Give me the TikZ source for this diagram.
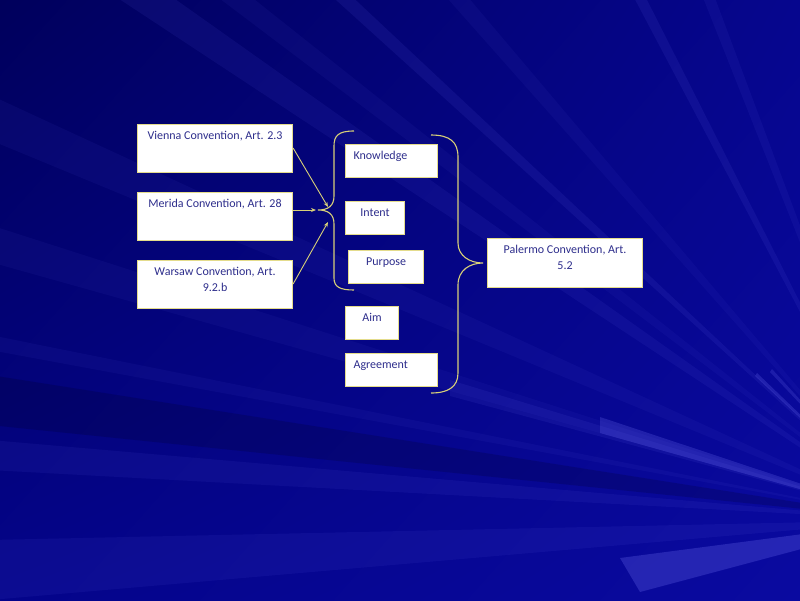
\documentclass[tikz,border=0pt]{standalone}
\usepackage{fontspec}
\setmainfont{Carlito}
\usetikzlibrary{arrows.meta,shadings}
\definecolor{bgUL}{HTML}{00005C}
\definecolor{bgUR}{HTML}{06068E}
\definecolor{bgLL}{HTML}{04048A}
\definecolor{bgLR}{HTML}{0A0AA0}
\definecolor{raylight}{HTML}{5A5AE0}
\definecolor{txtblue}{HTML}{2E2E8C}
\definecolor{edgey}{HTML}{E4DC8C}
\definecolor{liney}{HTML}{D8D078}
\tikzset{
  x=1pt,y=-1pt,
  box/.style={draw=edgey,line width=1.1pt,fill=white,inner sep=0pt,anchor=north west,
    text=txtblue,font=\fontsize{12}{15.5}\selectfont},
  brace/.style={draw=liney,line width=1.1pt},
  conn/.style={draw=liney,line width=0.9pt,-{Stealth[length=5pt,width=4pt]}},
  ray/.style={fill=raylight},
}
\newcommand{\bx}[4]{\parbox[t][#2pt][t]{#1pt}{\vspace*{7pt}#3#4\par}}
\begin{document}
\begin{tikzpicture}
\useasboundingbox (0,0) rectangle (800,600);
\shade[upper left=bgUL,upper right=bgUR,lower left=bgLL,lower right=bgLR] (0,0) rectangle (800,600);
\begin{scope}
\clip (0,0) rectangle (800,600);
\coordinate (F) at (910,520);
\fill[ray,opacity=0.10] (F) -- (60,-40) -- (120,-40) -- cycle;
\fill[ray,opacity=0.07] (F) -- (195,-20) -- (230,-20) -- cycle;
\fill[ray,opacity=0.12] (F) -- (325,-10) -- (345,-10) -- cycle;
\fill[ray,opacity=0.07] (F) -- (440,-10) -- (462,-10) -- cycle;
\fill[ray,opacity=0.12] (F) -- (630,-10) -- (642,-10) -- cycle;
\fill[ray,opacity=0.09] (F) -- (700,-10) -- (712,-10) -- cycle;
\fill[ray,opacity=0.08] (F) -- (-10,95) -- (-10,140) -- cycle;
\fill[ray,opacity=0.07] (F) -- (-10,225) -- (-10,262) -- cycle;
\fill[ray,opacity=0.08] (F) -- (-10,335) -- (-10,350) -- cycle;
\fill[ray,opacity=0.10] (F) -- (-10,440) -- (-10,470) -- cycle;
\fill[black,opacity=0.15] (F) -- (-10,375) -- (-10,425) -- cycle;
\fill[ray,opacity=0.10] (F) -- (-10,540) -- (-10,600) -- cycle;
\fill[ray,opacity=0.35] (F) -- (620,558) -- (640,592) -- cycle;
\fill[ray,opacity=0.12] (F) -- (450,380) -- (450,396) -- cycle;
\fill[ray,opacity=0.30] (F) -- (600,417) -- (600,433) -- cycle;
\fill[ray,opacity=0.30] (F) -- (755,376) -- (757,373) -- cycle;
\fill[ray,opacity=0.25] (F) -- (770,372) -- (772,369) -- cycle;
\end{scope}

\node[box] (vienna) at (137,124) {\bx{155}{48}{\centering}{Vienna Convention, Art. 2.3}};
\node[box] (merida) at (137,192) {\bx{155}{48}{\centering}{Merida Convention, Art. 28}};
\node[box] (warsaw) at (137,260) {\bx{155}{48}{\centering}{Warsaw Convention, Art.\\9.2.b}};
\node[box] (know) at (345,144) {\bx{92}{33}{\hspace*{8pt}}{Knowledge}};
\node[box] (intent) at (345,201) {\bx{59}{33}{\centering}{Intent}};
\node[box] (purpose) at (348,250) {\bx{75}{33}{\centering}{Purpose}};
\node[box] (aim) at (345,306) {\bx{53}{33}{\centering}{Aim}};
\node[box] (agree) at (345,353) {\bx{92}{33}{\hspace*{8pt}}{Agreement}};
\node[box] (palermo) at (487,238) {\bx{155}{49}{\centering}{Palermo Convention, Art.\\5.2}};

\coordinate (ltip) at (318,210);
\coordinate (rtip) at (483,263);
\draw[brace] (354,131) .. controls (338,131) and (334,136) .. (334,146)
  -- (334,196) .. controls (334,206) and (328,210) .. (ltip)
  .. controls (328,210) and (334,214) .. (334,224)
  -- (334,278) .. controls (334,287) and (340,290) .. (354,290);
\draw[brace] (431,135) .. controls (450,135) and (458,142) .. (458,157)
  -- (458,243) .. controls (458,256) and (470,263) .. (rtip)
  .. controls (470,263) and (458,270) .. (458,285)
  -- (458,373) .. controls (458,387) and (448,393) .. (431,393);

\coordinate (a1) at (328,207);
\coordinate (a2) at (316,210);
\coordinate (a3) at (328,222);
\draw[conn] (vienna.east |- 0,148) -- (a1);
\draw[conn] (merida.east |- 0,210) -- (a2);
\draw[conn] (warsaw.east |- 0,284) -- (a3);
\end{tikzpicture}
\end{document}
